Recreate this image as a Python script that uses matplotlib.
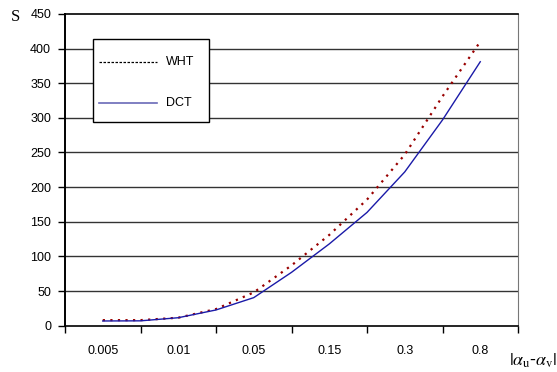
import matplotlib
matplotlib.use("Agg")
import matplotlib.pyplot as plt
from matplotlib.patches import Rectangle

# category labels on the x axis
categories = ["0.005", "0.01", "0.05", "0.15", "0.3", "0.8"]

# values read at half-category steps (0.005 .. 0.8)
steps = [0, 0.5, 1, 1.5, 2, 2.5, 3, 3.5, 4, 4.5, 5]
wht = [8, 8, 11.5, 24, 48, 87, 131, 182, 247, 331, 410]
dct = [6.8, 7, 11.5, 22.7, 40.5, 77, 118, 163.5, 222, 297, 381]

plt.rcParams["font.family"] = ["Liberation Sans", "DejaVu Sans"]
plt.rcParams["mathtext.fontset"] = "stix"

fig = plt.figure(figsize=(5.57, 3.72), dpi=100)
ax = fig.add_axes([0.1167, 0.1245, 0.8133, 0.838])

ax.plot(steps, wht, color="#990000", linestyle=(0, (1, 2.4)), linewidth=1.6)
ax.plot(steps, dct, color="#1a1aa8", linestyle="-", linewidth=1.0)

ax.set_xlim(-0.5, 5.5)
ax.set_ylim(0, 450)
ax.set_yticks(range(0, 451, 50))
ax.tick_params(axis="y", direction="out", length=5, width=1, pad=5, labelsize=9)

# tick marks at category boundaries, labels at centres
ax.set_xticks([i - 0.5 for i in range(len(categories) + 1)])
ax.set_xticklabels([])
ax.set_xticks(range(len(categories)), minor=True)
ax.set_xticklabels(categories, minor=True)
ax.tick_params(axis="x", which="major", direction="out", length=5, width=1)
ax.tick_params(axis="x", which="minor", length=0, pad=14, labelsize=9)

for v in range(50, 450, 50):
    ax.axhline(v, color="#333333", linewidth=1.0, zorder=0)

ax.spines["left"].set_linewidth(1.4)
ax.spines["bottom"].set_linewidth(1.2)
ax.spines["top"].set_linewidth(1.2)
ax.spines["right"].set_color("#777777")
ax.spines["right"].set_linewidth(0.8)

# legend box drawn by hand (Excel style: tall rows, small side padding)
tr = ax.transAxes
ax.add_patch(Rectangle((0.062, 0.6535), 0.256, 0.2665, transform=tr,
                       facecolor="white", edgecolor="black", linewidth=1.0,
                       zorder=5))
ax.plot([0.075, 0.203], [0.846, 0.846], transform=tr, color="black",
        linestyle=(0, (2, 1.2)), linewidth=0.9, zorder=6)
ax.plot([0.075, 0.203], [0.7145, 0.7145], transform=tr, color="#6a6ab8",
        linestyle="-", linewidth=1.2, zorder=6)
ax.text(0.223, 0.846, "WHT", transform=tr, fontsize=9, va="center", zorder=6)
ax.text(0.223, 0.7145, "DCT", transform=tr, fontsize=9, va="center", zorder=6)

fig.text(0.027, 0.953, "S", fontsize=12, family="Liberation Serif",
         ha="center", va="center")
fig.text(0.957, 0.03, r"$|\alpha_{\rm u}$-$\alpha_{\rm v}|$", fontsize=13,
         ha="center", va="center")

fig.savefig("out.png", dpi=100)
